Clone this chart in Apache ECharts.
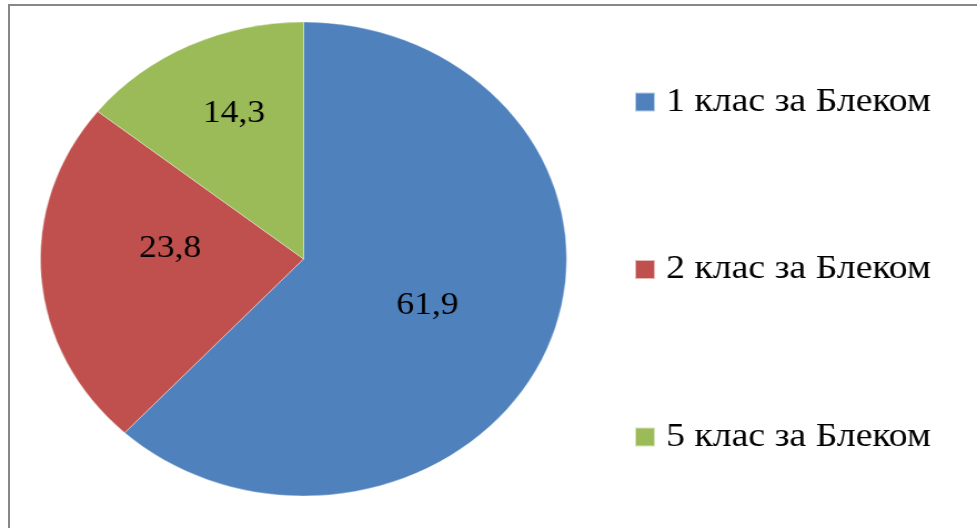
<!DOCTYPE html>
<html>
<head>
<meta charset="utf-8">
<script src="https://cdn.jsdelivr.net/npm/echarts@6/dist/echarts.min.js"></script>
<style>
html,body{margin:0;padding:0;background:#fff;overflow:hidden;width:977px;height:528px;}
#frame{position:absolute;left:8px;top:4px;width:1100px;height:700px;border-left:2.5px solid #878787;border-top:2px solid #878787;box-sizing:border-box;}
#chart{position:absolute;left:0;top:0;width:880px;height:528px;transform:scaleX(1.1102);transform-origin:0 0;}
</style>
</head>
<body>
<div id="frame"></div>
<div id="chart"></div>
<script>
const categories = ['1 клас за Блеком', '2 клас за Блеком', '5 клас за Блеком'];
const values = [61.9, 23.8, 14.3];
const labelTexts = ['61,9', '23,8', '14,3'];

const colors = ['#4F81BD', '#C0504D', '#9BBB59'];
const labelOffsets = [[-1.5, 2], [1, -19.5], [-10, -36]];

const chart = echarts.init(document.getElementById('chart'), null, {renderer: 'canvas'});
const font = '"Liberation Serif", "Times New Roman", serif';

chart.setOption({
  animation: false,
  color: colors,
  legend: {
    orient: 'vertical',
    left: 571,
    top: 85,
    padding: 0,
    icon: 'rect',
    itemWidth: 18,
    itemHeight: 19,
    itemGap: 133.5,
    selectedMode: false,
    data: categories,
    textStyle: {fontFamily: font, fontSize: 34, color: '#000', lineHeight: 34, padding: [0, 0, 0, 5]}
  },
  series: [{
    type: 'pie',
    center: [273.4, 259],
    radius: [0, 237],
    startAngle: 90,
    clockwise: true,
    avoidLabelOverlap: false,
    itemStyle: {borderColor: 'rgba(255,255,255,0.6)', borderWidth: 0.6},
    label: {position: 'inside', fontFamily: font, fontSize: 32, color: '#000'},
    labelLine: {show: false},
    emphasis: {disabled: true},
    data: categories.map((c, i) => ({
      name: c,
      value: values[i],
      label: {formatter: labelTexts[i], offset: labelOffsets[i]}
    }))
  }]
});
</script>
</body>
</html>
